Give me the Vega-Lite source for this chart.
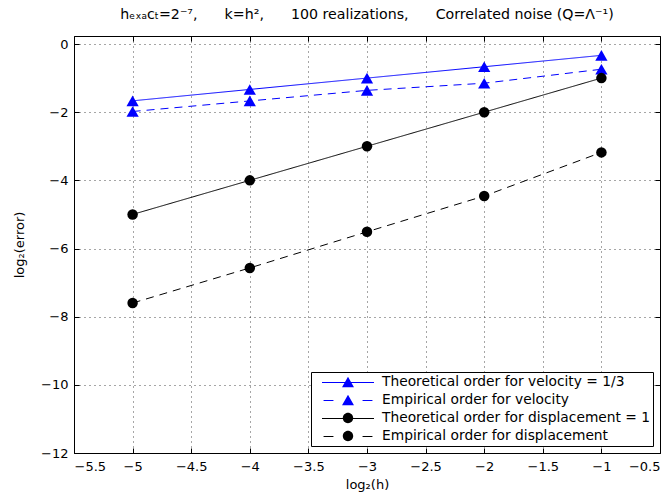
{
  "$schema": "https://vega.github.io/schema/vega-lite/v6.json",
  "width": 586,
  "height": 417,
  "autosize": {"type": "none"},
  "padding": {"left": 74, "top": 36, "right": 12, "bottom": 46},
  "background": "white",
  "config": {
    "font": "DejaVu Sans",
    "view": {"stroke": "black", "strokeWidth": 1},
    "axis": {
      "domain": false,
      "tickColor": "black",
      "tickSize": -5,
      "tickWidth": 1,
      "labelColor": "black",
      "labelFontSize": 13,
      "titleFontSize": 13,
      "titleFontWeight": "normal",
      "titleColor": "black",
      "gridColor": "#000000",
      "gridOpacity": 0.7,
      "gridDash": [1, 4],
      "gridWidth": 1
    },
    "legend": {
      "orient": "bottom-right",
      "offset": 7,
      "padding": 2,
      "strokeColor": "black",
      "fillColor": "white",
      "symbolSize": 2704,
      "clipHeight": 16,
      "rowPadding": 2,
      "symbolOffset": 9,
      "labelOffset": 8,
      "labelFontSize": 13.8,
      "labelColor": "black",
      "labelLimit": 500,
      "symbolStrokeWidth": 0
    }
  },
  "title": {
    "text": "hₑₓₐcₜ=2⁻⁷,\u00a0\u00a0\u00a0\u00a0\u00a0\u00a0k=h²,\u00a0\u00a0\u00a0\u00a0\u00a0\u00a0100 realizations,\u00a0\u00a0\u00a0\u00a0\u00a0\u00a0Correlated noise (Q=Λ⁻¹)",
    "fontSize": 14.2,
    "fontWeight": "normal",
    "color": "black",
    "offset": 13,
    "anchor": "middle",
    "frame": "group"
  },
  "data": {
    "values": [
      {"series": "Theoretical order for velocity = 1/3", "x": -5, "y": -1.667},
      {"series": "Theoretical order for velocity = 1/3", "x": -4, "y": -1.333},
      {"series": "Theoretical order for velocity = 1/3", "x": -3, "y": -1.0},
      {"series": "Theoretical order for velocity = 1/3", "x": -2, "y": -0.667},
      {"series": "Theoretical order for velocity = 1/3", "x": -1, "y": -0.333},
      {"series": "Empirical order for velocity", "x": -5, "y": -1.98},
      {"series": "Empirical order for velocity", "x": -4, "y": -1.67},
      {"series": "Empirical order for velocity", "x": -3, "y": -1.36},
      {"series": "Empirical order for velocity", "x": -2, "y": -1.15},
      {"series": "Empirical order for velocity", "x": -1, "y": -0.74},
      {"series": "Theoretical order for displacement = 1", "x": -5, "y": -5.0},
      {"series": "Theoretical order for displacement = 1", "x": -4, "y": -4.0},
      {"series": "Theoretical order for displacement = 1", "x": -3, "y": -3.0},
      {"series": "Theoretical order for displacement = 1", "x": -2, "y": -2.0},
      {"series": "Theoretical order for displacement = 1", "x": -1, "y": -1.0},
      {"series": "Empirical order for displacement", "x": -5, "y": -7.6},
      {"series": "Empirical order for displacement", "x": -4, "y": -6.57},
      {"series": "Empirical order for displacement", "x": -3, "y": -5.51},
      {"series": "Empirical order for displacement", "x": -2, "y": -4.46},
      {"series": "Empirical order for displacement", "x": -1, "y": -3.18}
    ]
  },
  "layer": [
    {
      "mark": {"type": "line", "strokeWidth": 1},
      "encoding": {
        "x": {
          "field": "x", "type": "quantitative",
          "scale": {"domain": [-5.5, -0.5], "nice": false, "zero": false},
          "axis": {"values": [-5.5, -5, -4.5, -4, -3.5, -3, -2.5, -2, -1.5, -1, -0.5], "format": ".2~f", "title": "log₂(h)", "grid": true, "labelPadding": 12, "titlePadding": 5}
        },
        "y": {
          "field": "y", "type": "quantitative",
          "scale": {"domain": [-12, 0.235], "nice": false, "zero": false},
          "axis": {"values": [-12, -10, -8, -6, -4, -2, 0], "format": "d", "title": "log₂(error)", "grid": true, "labelPadding": 11, "titlePadding": 14}
        },
        "color": {
          "field": "series", "type": "nominal",
          "scale": {"domain": ["Theoretical order for velocity = 1/3", "Empirical order for velocity", "Theoretical order for displacement = 1", "Empirical order for displacement"], "range": ["#0000ff", "#0000ff", "#000000", "#000000"]},
          "legend": null
        },
        "strokeDash": {
          "field": "series", "type": "nominal",
          "scale": {"domain": ["Theoretical order for velocity = 1/3", "Empirical order for velocity", "Theoretical order for displacement = 1", "Empirical order for displacement"], "range": [[1, 0], [8, 6], [1, 0], [8, 6]]},
          "legend": null
        }
      }
    },
    {
      "transform": [{"filter": {"field": "series", "oneOf": ["Theoretical order for velocity = 1/3", "Empirical order for velocity"]}}],
      "mark": {"type": "point", "shape": "triangle-up", "size": 150, "filled": true, "opacity": 1, "strokeWidth": 0},
      "encoding": {
        "x": {
          "field": "x", "type": "quantitative",
          "axis": {"orient": "top", "values": [-5.5, -5, -4.5, -4, -3.5, -3, -2.5, -2, -1.5, -1, -0.5], "labels": false, "title": null, "grid": false}
        },
        "y": {
          "field": "y", "type": "quantitative",
          "axis": {"orient": "right", "values": [-12, -10, -8, -6, -4, -2, 0], "labels": false, "title": null, "grid": false}
        },
        "color": {"field": "series", "type": "nominal", "legend": null}
      }
    },
    {
      "transform": [{"filter": {"field": "series", "oneOf": ["Theoretical order for displacement = 1", "Empirical order for displacement"]}}],
      "mark": {"type": "point", "shape": "circle", "size": 110, "filled": true, "opacity": 1, "strokeWidth": 0},
      "encoding": {
        "x": {"field": "x", "type": "quantitative", "axis": null},
        "y": {"field": "y", "type": "quantitative", "axis": null},
        "color": {"field": "series", "type": "nominal", "legend": null}
      }
    },
    {
      "transform": [{"filter": {"field": "series", "equal": "none"}}],
      "mark": {"type": "point", "filled": true, "opacity": 1, "strokeWidth": 0},
      "encoding": {
        "x": {"field": "x", "type": "quantitative", "axis": null},
        "y": {"field": "y", "type": "quantitative", "axis": null},
        "shape": {
          "field": "series", "type": "nominal",
          "scale": {"domain": ["Theoretical order for velocity = 1/3", "Empirical order for velocity", "Theoretical order for displacement = 1", "Empirical order for displacement"],
            "range": [
              "M-1,0L1,0L1,0.0385L-1,0.0385ZM0,-0.2L0.23,0.2L-0.23,0.2Z",
              "M-0.94,0L-0.56,0L-0.56,0.0385L-0.94,0.0385ZM0.56,0L0.94,0L0.94,0.0385L0.56,0.0385ZM0,-0.2L0.23,0.2L-0.23,0.2Z",
              "M-1,0L1,0L1,0.0385L-1,0.0385ZM0.2,0C0.2,0.11,0.11,0.2,0,0.2C-0.11,0.2,-0.2,0.11,-0.2,0C-0.2,-0.11,-0.11,-0.2,0,-0.2C0.11,-0.2,0.2,-0.11,0.2,0Z",
              "M-0.94,0L-0.56,0L-0.56,0.0385L-0.94,0.0385ZM0.56,0L0.94,0L0.94,0.0385L0.56,0.0385ZM0.2,0C0.2,0.11,0.11,0.2,0,0.2C-0.11,0.2,-0.2,0.11,-0.2,0C-0.2,-0.11,-0.11,-0.2,0,-0.2C0.11,-0.2,0.2,-0.11,0.2,0Z"
            ]},
          "legend": {"title": null}
        },
        "fill": {
          "field": "series", "type": "nominal",
          "scale": {"domain": ["Theoretical order for velocity = 1/3", "Empirical order for velocity", "Theoretical order for displacement = 1", "Empirical order for displacement"], "range": ["#0000ff", "#0000ff", "#000000", "#000000"]},
          "legend": {"title": null}
        }
      }
    }
  ],
  "resolve": {
    "axis": {"x": "independent", "y": "independent"},
    "scale": {"shape": "independent", "fill": "independent"}
  }
}
